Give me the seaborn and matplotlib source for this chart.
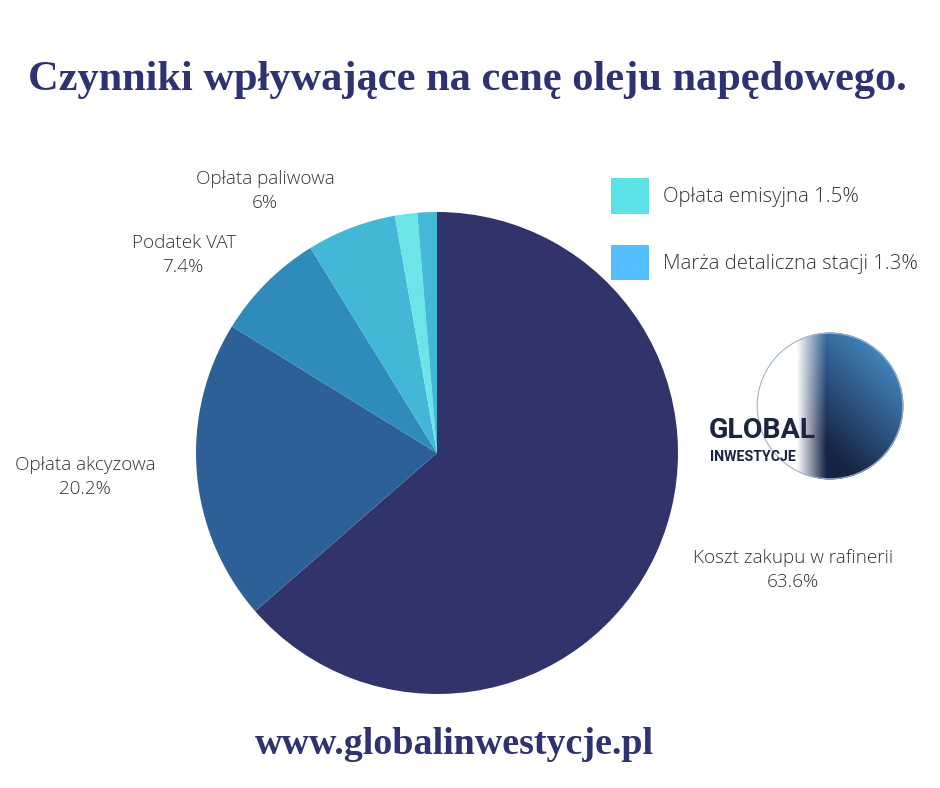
import numpy as np
import pandas as pd
import matplotlib
matplotlib.use("Agg")
import matplotlib.pyplot as plt
import seaborn as sns
from matplotlib.patches import Patch, Circle

# ---- data ----
categories = ["Koszt zakupu w rafinerii", "Opłata akcyzowa", "Podatek VAT",
              "Opłata paliwowa", "Opłata emisyjna", "Marża detaliczna stacji"]
shares = [63.6, 20.2, 7.4, 6.0, 1.5, 1.3]
share_labels = ["63.6%", "20.2%", "7.4%", "6%", "1.5%", "1.3%"]
slice_colors = ["#31346B", "#2E6098", "#2E8BBA", "#43B7D6", "#6BE5E8", "#43B8D8"]
legend_names = ["Opłata emisyjna 1.5%", "Marża detaliczna stacji 1.3%"]
legend_colors = ["#5CE1E6", "#55BEFF"]

df = pd.DataFrame({"category": categories, "share": shares,
                   "label": share_labels, "color": slice_colors})

sns.set_theme(style="white")
plt.rcParams["font.family"] = ["Open Sans", "DejaVu Sans"]

W, H = 940, 788
fig = plt.figure(figsize=(W / 100, H / 100), dpi=100)
fig.patch.set_facecolor("white")

def fx(px):
    return px / W

def fy(py):
    return 1 - py / H

# pie axes
cx, cy, r = 437, 453, 241
ax = fig.add_axes([fx(cx - r), fy(cy + r), 2 * r / W, 2 * r / H])
ax.pie(df["share"], colors=df["color"], startangle=90, counterclock=False,
       radius=1, wedgeprops=dict(linewidth=0))
ax.set_xlim(-1, 1)
ax.set_ylim(-1, 1)
ax.set_aspect("equal")
ax.axis("off")

# slice labels
label_pos = {
    "Koszt zakupu w rafinerii": (793, 570),
    "Opłata akcyzowa": (85, 477),
    "Podatek VAT": (184, 255),
    "Opłata paliwowa": (265, 191),
}
txt_color = "#333333"
for _, row in df.iterrows():
    if row["category"] in label_pos:
        px, py = label_pos[row["category"]]
        fig.text(fx(px), fy(py), f"{row['category']}\n{row['label']}",
                 ha="center", va="center", fontsize=13.6, color=txt_color,
                 fontweight="light", linespacing=1.4)

# legend
handles = [Patch(facecolor=c, edgecolor="none", label=n)
           for n, c in zip(legend_names, legend_colors)]
fig.legend(handles=handles, loc="upper left",
           bbox_to_anchor=(fx(593), fy(160)), frameon=False,
           handlelength=1.85, handleheight=2.3,
           handletextpad=0.7, labelspacing=1.5, labelcolor=txt_color,
           prop={"family": ["Open Sans", "DejaVu Sans"], "weight": "light", "size": 14.7})

# title and footer
navy = "#2E3270"
fig.text(fx(467), fy(80), "Czynniki wpływające na cenę oleju napędowego.",
         ha="center", va="center", fontsize=30.5, fontweight="bold", color=navy,
         family=["Liberation Serif", "DejaVu Serif"])
fig.text(fx(454), fy(745), "www.globalinwestycje.pl",
         ha="center", va="center", fontsize=27.4, fontweight="bold", color=navy,
         family=["Liberation Serif", "DejaVu Serif"])

# logo (decorative globe)
gx, gy, gr = 830, 406, 75
lax = fig.add_axes([fx(gx - gr), fy(gy + gr), 2 * gr / W, 2 * gr / H])
n = 240
xx, yy = np.meshgrid(np.linspace(-1, 1, n), np.linspace(1, -1, n))
t = np.clip((xx + yy + 0.6) / 2.2, 0, 1)
c0 = np.array([0.09, 0.14, 0.27])
c1 = np.array([0.27, 0.55, 0.78])
img = np.zeros((n, n, 4))
img[..., :3] = c0 * (1 - t[..., None]) + c1 * t[..., None]
img[..., 3] = np.clip((xx + 0.45) * 2.5, 0, 1)
im = lax.imshow(img, extent=[-1, 1, -1, 1], interpolation="bilinear")
clip = Circle((0, 0), 1, transform=lax.transData)
im.set_clip_path(clip)
lax.add_patch(Circle((0, 0), 0.99, fill=False, edgecolor="#9FB3C8", lw=0.8))
lax.set_xlim(-1.02, 1.02)
lax.set_ylim(-1.02, 1.02)
lax.set_aspect("equal")
lax.axis("off")

fig.text(fx(762), fy(431), "GLOBAL", ha="center", va="center", fontsize=20.5,
         fontweight="bold", color="#1B2440", family=["Roboto", "DejaVu Sans"])
fig.text(fx(753), fy(457), "INWESTYCJE", ha="center", va="center", fontsize=10.2,
         fontweight="bold", color="#1B2440", family=["Roboto", "DejaVu Sans"])

fig.savefig("out.png", dpi=100, facecolor="white")
